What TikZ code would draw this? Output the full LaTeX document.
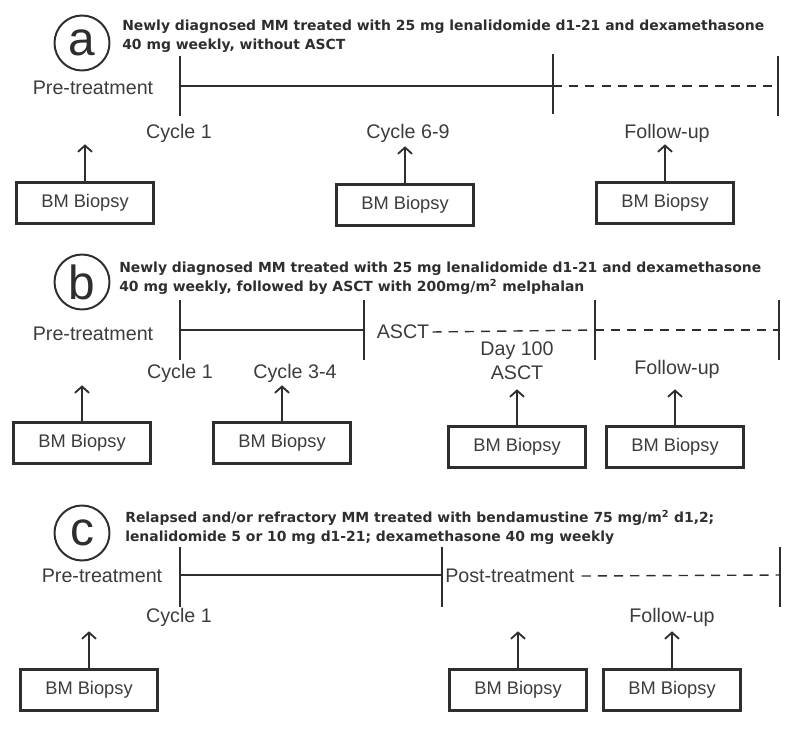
\documentclass[tikz,border=0pt]{standalone}
\usepackage{fontspec}
\setmainfont{Liberation Sans}
\newfontfamily\headfont{DejaVu Sans}
\usetikzlibrary{arrows.meta}
\definecolor{ink}{HTML}{2E2E2E}
\definecolor{txt}{HTML}{3C3C3C}
\tikzset{
  lbl/.style={text=txt, font=\fontsize{14}{17}\selectfont, inner sep=0pt, align=center},
  hdr/.style={text=ink, font=\headfont\bfseries\fontsize{9.9}{13.5}\selectfont, align=left, anchor=north west, inner sep=0pt},
  panel/.style={circle, draw=ink, line width=1.4pt, minimum size=1.375cm, inner sep=0pt, text=ink, font=\fontsize{34}{34}\selectfont},
  biopsy/.style={draw=ink, line width=1.7pt, minimum width=3.425cm, minimum height=1.025cm, inner sep=0pt, text=txt, font=\fontsize{13}{15}\selectfont},
  tl/.style={draw=ink, line width=1pt},
  later/.style={tl, dash pattern=on 6.5pt off 5pt},
  tick/.style={draw=ink, line width=1.4pt},
  up/.style={draw=ink, line width=1.3pt, -{Straight Barb[length=4.5pt,width=10pt]}}
}
\begin{document}
\begin{tikzpicture}[x=0.025cm, y=-0.025cm]
\useasboundingbox (0,0) rectangle (800,734);

% (a) without ASCT
\node[panel] (pa) at (82,43) {a};
\node[hdr] (hda) at (122,20) {Newly diagnosed MM treated with 25 mg lenalidomide d1-21 and dexamethasone\\40 mg weekly, without ASCT};
\coordinate (a0) at (180,86);
\coordinate (a1) at (553,86);
\coordinate (a2) at (778,86);
\draw[tl] (a0) -- (a1);
\draw[later] (a1) -- (a2);
\draw[tick] (a0) ++(0,-30) -- ++(0,60);
\draw[tick] (a1) ++(0,-32) -- ++(0,60);
\draw[tick] (a2) ++(0,-30) -- ++(0,60);
\node[lbl] (preA) at (93,88) {Pre-treatment};
\node[lbl] (cycA1) at (179,133) {Cycle 1};
\node[lbl] (cycA2) at (408,133) {Cycle 6-9};
\node[lbl] (fupA) at (667,133) {Follow-up};
\node[biopsy] (bxA1) at (85,203) {BM Biopsy};
\node[biopsy] (bxA2) at (405,205) {BM Biopsy};
\node[biopsy] (bxA3) at (665,203) {BM Biopsy};
\draw[up] (bxA1.north) -- ++(0,-37);
\draw[up] (bxA2.north) -- ++(0,-37);
\draw[up] (bxA3.north) -- ++(0,-37);

% (b) followed by ASCT
\node[panel] (pb) at (82,282) {b};
\node[hdr] (hdb) at (119,262) {Newly diagnosed MM treated with 25 mg lenalidomide d1-21 and dexamethasone\\40 mg weekly, followed by ASCT with 200mg/m\textsuperscript{2} melphalan};
\coordinate (b0) at (180,330);
\coordinate (b1) at (364,330);
\coordinate (b2) at (595,330);
\coordinate (b3) at (779,330);
\node[lbl] (asct) at (403,332) {ASCT};
\draw[tl] (b0) -- (b1);
\draw[later] (asct.east) ++(3,0) -- (b2);
\draw[later] (b2) -- (b3);
\draw[tick] (b0) ++(0,-30) -- ++(0,60);
\draw[tick] (b1) ++(0,-30) -- ++(0,60);
\draw[tick] (b2) ++(0,-30) -- ++(0,60);
\draw[tick] (b3) ++(0,-30) -- ++(0,60);
\node[lbl] (preB) at (93,334) {Pre-treatment};
\node[lbl] (cycB1) at (180,373) {Cycle 1};
\node[lbl] (cycB2) at (295,373) {Cycle 3-4};
\node[lbl] (dayB) at (517,361) {Day 100\\ASCT};
\node[lbl] (fupB) at (677,369) {Follow-up};
\node[biopsy] (bxB1) at (82,443) {BM Biopsy};
\node[biopsy] (bxB2) at (282,443) {BM Biopsy};
\node[biopsy] (bxB3) at (517,447) {BM Biopsy};
\node[biopsy] (bxB4) at (675,447) {BM Biopsy};
\draw[up] (bxB1.north) -- ++(0,-36);
\draw[up] (bxB2.north) -- ++(0,-36);
\draw[up] (bxB3.north) -- ++(0,-36);
\draw[up] (bxB4.north) -- ++(0,-36);

% (c) relapsed / refractory
\node[panel] (pc) at (82,533) {c};
\node[hdr] (hdc) at (125,510) {Relapsed and/or refractory MM treated with bendamustine 75 mg/m\textsuperscript{2} d1,2;\\lenalidomide 5 or 10 mg d1-21; dexamethasone 40 mg weekly};
\coordinate (c0) at (180,575);
\coordinate (c1) at (442,575);
\coordinate (c2) at (780,575);
\node[lbl, anchor=west] (post) at (445,576) {Post-treatment};
\draw[tl] (c0) -- (c1);
\draw[later] (post.east) ++(7,0) -- (c2);
\draw[tick] (c0) ++(0,-28) -- ++(0,60);
\draw[tick] (c1) ++(0,-28) -- ++(0,60);
\draw[tick] (c2) ++(0,-28) -- ++(0,60);
\node[lbl] (preC) at (102,576) {Pre-treatment};
\node[lbl] (cycC1) at (179,617) {Cycle 1};
\node[lbl] (fupC) at (672,617) {Follow-up};
\node[biopsy] (bxC1) at (89,690) {BM Biopsy};
\node[biopsy] (bxC2) at (518,690) {BM Biopsy};
\node[biopsy] (bxC3) at (672,690) {BM Biopsy};
\draw[up] (bxC1.north) -- ++(0,-37);
\draw[up] (bxC2.north) -- ++(0,-37);
\draw[up] (bxC3.north) -- ++(0,-37);
\end{tikzpicture}
\end{document}
